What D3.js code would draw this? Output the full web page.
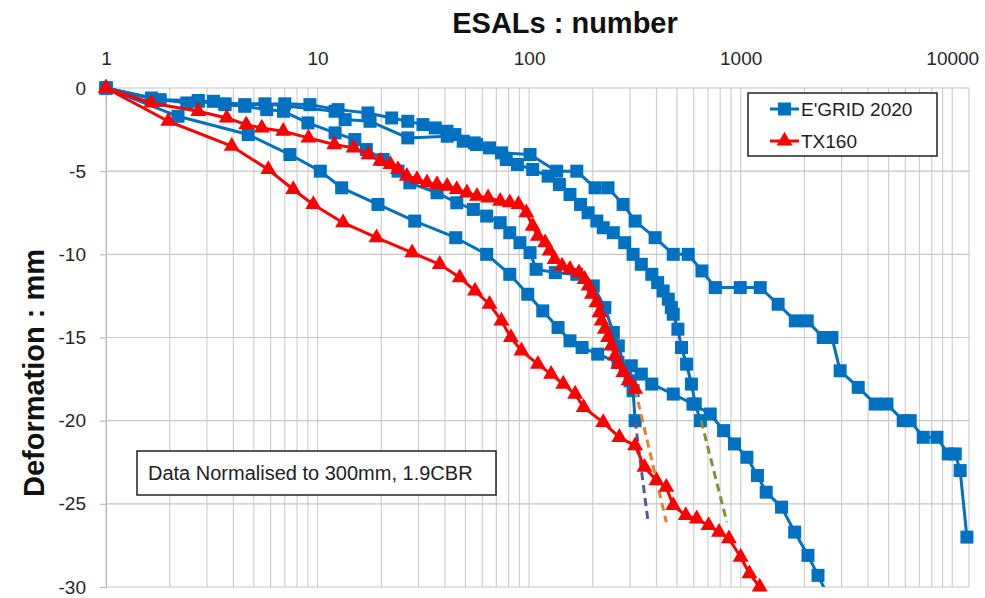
<!DOCTYPE html>
<html>
<head>
<meta charset="utf-8">
<script src="https://cdn.jsdelivr.net/npm/d3@7"></script>
<style>
  body { margin: 0; background: #fff; }
  text { font-family: "Liberation Sans", Arial, sans-serif; }
</style>
</head>
<body>
<svg id="svg" width="985" height="598"></svg>
<script>
const WIDTH = 985
const HEIGHT = 598
const PLOT = { left: 106, right: 969, top: 88, bottom: 587 }

// [ESALs, deformation mm] for each run
const EGRID_1 = [[1,0],[1.64,-0.6],[2.41,-0.9],[3.22,-0.8],[4.53,-1],[7,-0.95],[9.2,-1],[12.5,-1.3],[17.3,-1.5],[22.4,-1.8],[26.7,-2],[31.5,-2.2],[36,-2.4],[40.9,-2.6],[44.6,-2.8],[55,-3.3],[74,-3.9],[101,-4],[135,-5],[168,-5],[205,-6],[236,-6],[278,-7],[317,-8],[394,-9],[480,-10],[565,-10],[656,-11],[759,-12],[995,-12],[1237,-12],[1503,-13],[1812,-14],[2063,-14],[2455,-15],[2700,-15],[2952,-17],[3594,-18],[4328,-19],[4913,-19],[5866,-20],[6327,-20],[7290,-21],[8466,-21],[9572,-22],[10330,-22],[10900,-23],[11730,-27]]
const EGRID_2 = [[1,0],[1.8,-0.7],[2.73,-0.75],[3.65,-0.95],[5.64,-0.95],[12.1,-1.4],[13.5,-1.9],[17.7,-2],[26.7,-3],[41,-2.9],[48.8,-3.2],[56.5,-3.4],[65,-3.6],[78,-4.3],[88,-4.6],[104,-4.9],[123,-5.3],[139,-5.8],[156,-6.4],[175,-7],[190,-7.5],[209,-8],[224,-8.4],[250,-8.7],[283,-9.3],[310,-10],[339,-10.6],[380,-11.2],[405,-11.7],[430,-12.2],[455,-12.7],[470,-13.2],[480,-13.6],[505,-14.5],[525,-15.6],[555,-16.6],[585,-17.8],[610,-19],[645,-20]]
const EGRID_3 = [[1,0],[2.19,-1.7],[4.7,-2.8],[7.4,-4],[10.3,-5],[13,-6],[19.3,-7],[28.8,-8],[45,-9],[63,-10],[81,-11.2],[98.5,-12.4],[116,-13.4],[137,-14.4],[156,-15.2],[178,-15.6],[211,-16],[263,-16.5],[304,-16.7],[339,-17.2],[380,-17.8],[480,-18.4],[595,-19],[718,-19.6],[830,-20.6],[935,-21.4],[1070,-22.2],[1200,-23.3],[1320,-24.3],[1560,-25.2],[1800,-26.7],[2080,-28.1],[2320,-29.3],[2600,-30.6]]
const EGRID_4 = [[1,0],[1.8,-0.75],[2.73,-0.8],[3.65,-1],[4.53,-1.1],[5.75,-1.3],[6.9,-1.4],[9,-2.1],[12.1,-2.7],[15,-3.1],[17,-3.7],[20.4,-4.3],[24,-5],[27.3,-5.7],[36.7,-6.3],[45.5,-6.9],[54.5,-7.3],[63,-7.7],[73,-8.1],[81,-8.7],[90.5,-9.3],[101,-9.9],[108,-10.9],[133,-11.1],[168,-11.2],[201,-11.9],[228,-13.2],[250,-14.7],[264,-15.5],[285,-16.9],[300,-17.6],[310,-18.2],[317,-20]]

const TX160_1 = [[1,0],[1.64,-0.9],[2.73,-1.4],[3.72,-1.8],[4.6,-2.2],[5.45,-2.4],[6.88,-2.6],[9.06,-3],[12,-3.4],[14.8,-3.6],[17.4,-4],[19.8,-4.4],[22.1,-4.6],[24,-4.9],[26.4,-5.3],[29.5,-5.5],[32.9,-5.7],[36.7,-5.8],[41,-5.9],[45.5,-6.1],[50.8,-6.3],[56.7,-6.5],[64,-6.6],[73,-6.8],[81,-6.9],[89,-7],[97,-7.5],[104,-8.3],[110,-8.9],[119,-9.3],[125,-9.8],[132,-10.3],[143,-10.7],[156,-10.9],[172,-11.1],[183,-11.5],[191,-11.9],[198,-12.4],[208,-12.9],[215,-13.5],[220,-14],[228,-14.5],[236,-15],[245,-15.5],[255,-16.1],[264,-16.6],[279,-17.1],[295,-17.6],[317,-18.1]]
const TX160_2 = [[1,0],[1.97,-2],[3.93,-3.5],[5.85,-4.9],[7.67,-6.1],[9.55,-7],[13.2,-8.1],[19,-9],[28,-9.9],[37.8,-10.6],[47,-11.4],[55.5,-12.2],[65,-13],[74,-14],[82,-15],[92,-15.8],[110,-16.6],[127,-17.2],[145,-17.8],[165,-18.4],[181,-19.2],[224,-20.1],[267,-21],[317,-21.5],[351,-22.8],[400,-23.6],[445,-24],[480,-25.1],[550,-25.7],[620,-25.9],[705,-26.3],[790,-26.7],[880,-27.1],[1000,-28.2],[1100,-29.2],[1230,-30]]

// extrapolated ends
const TREND_PURPLE = [[317,-20],[365,-26.1]]
const TREND_ORANGE = [[317,-18.1],[445,-26.1]]
const TREND_OLIVE = [[650,-20],[860,-26.1]]

const X_TICKS = [1, 10, 100, 1000, 10000]
const Y_TICKS = [0, -5, -10, -15, -20, -25, -30]
const X_DOMAIN = [1, 12000]
const Y_DOMAIN = [-30, 0]

const BLUE = '#0070c0'
const RED = '#ff0000'

const SVG = d3.select('#svg')

const x = d3.scaleLog().domain(X_DOMAIN).range([PLOT.left, PLOT.right])
const y = d3.scaleLinear().domain(Y_DOMAIN).range([PLOT.bottom, PLOT.top])

// gridlines: every 1..9 per decade, plus the right edge
const minorX = []
for (let p = 0; p <= 4; p++) {
  for (let k = 1; k <= 9; k++) {
    const v = k * Math.pow(10, p)
    if (v <= X_DOMAIN[1]) minorX.push(v)
  }
}
minorX.push(X_DOMAIN[1])

const GRID = SVG.append('g')
GRID.selectAll('line.v')
  .data(minorX)
  .enter()
  .append('line')
  .attr('x1', d => x(d)).attr('x2', d => x(d))
  .attr('y1', PLOT.top).attr('y2', PLOT.bottom)
  .attr('stroke', '#cfcfcf')
  .attr('stroke-width', 1.2)
GRID.selectAll('line.h')
  .data(Y_TICKS)
  .enter()
  .append('line')
  .attr('x1', PLOT.left).attr('x2', PLOT.right)
  .attr('y1', d => y(d)).attr('y2', d => y(d))
  .attr('stroke', '#c6c6c6')
  .attr('stroke-width', 1.2)

// axes
const X_AXIS = SVG.append('g')
  .attr('transform', `translate(0, ${PLOT.top})`)
  .call(d3.axisTop(x).tickValues(X_TICKS).tickFormat(d => String(d)).tickSize(0).tickPadding(23))
X_AXIS.select('.domain').remove()
X_AXIS.selectAll('text')
  .attr('font-size', 19)
  .attr('fill', '#262626')
  .style('font-family', '"Liberation Sans", Arial, sans-serif')

const Y_AXIS = SVG.append('g')
  .attr('transform', `translate(${PLOT.left}, 0)`)
  .call(d3.axisLeft(y).tickValues(Y_TICKS).tickFormat(d => String(d)).tickSize(6).tickPadding(14))
Y_AXIS.select('.domain').attr('stroke', '#bdbdbd').attr('stroke-width', 1.2)
Y_AXIS.selectAll('line').attr('stroke', '#bdbdbd').attr('stroke-width', 1.2)
Y_AXIS.selectAll('text')
  .attr('font-size', 19)
  .attr('fill', '#262626')
  .style('font-family', '"Liberation Sans", Arial, sans-serif')

// titles
SVG.append('text')
  .text('ESALs : number')
  .attr('x', 565)
  .attr('y', 33)
  .attr('text-anchor', 'middle')
  .attr('font-size', 29)
  .attr('font-weight', 'bold')
  .attr('fill', '#111')

SVG.append('text')
  .text('Deformation : mm')
  .attr('transform', 'translate(44, 373) rotate(-90)')
  .attr('text-anchor', 'middle')
  .attr('font-size', 29)
  .attr('font-weight', 'bold')
  .attr('fill', '#111')

// series
SVG.append('clipPath').attr('id', 'plot-clip')
  .append('rect')
  .attr('x', PLOT.left).attr('y', PLOT.top)
  .attr('width', PLOT.right - PLOT.left).attr('height', PLOT.bottom - PLOT.top)

const LINE = d3.line().x(d => x(d[0])).y(d => y(d[1]))
const SQUARE = d3.symbol().type(d3.symbolSquare).size(169)
const TRIANGLE = d3.symbol().type(d3.symbolTriangle).size(110)

function drawSeries(data, color, symbol) {
  const g = SVG.append('g')
  g.append('path')
    .datum(data)
    .attr('d', LINE)
    .attr('fill', 'none')
    .attr('stroke', color)
    .attr('stroke-width', 3)
    .attr('stroke-linejoin', 'round')
    .attr('clip-path', 'url(#plot-clip)')
  g.selectAll('path.m')
    .data(data.filter(d => d[1] >= Y_DOMAIN[0]))
    .enter()
    .append('path')
    .attr('d', symbol)
    .attr('transform', d => `translate(${x(d[0])}, ${y(d[1])})`)
    .attr('fill', color)
}

function drawTrend(data, color) {
  SVG.append('path')
    .datum(data)
    .attr('d', LINE)
    .attr('fill', 'none')
    .attr('stroke', color)
    .attr('stroke-width', 3)
    .attr('stroke-dasharray', '8,5')
}

drawSeries(EGRID_1, BLUE, SQUARE)
drawSeries(EGRID_2, BLUE, SQUARE)
drawSeries(EGRID_3, BLUE, SQUARE)
drawSeries(EGRID_4, BLUE, SQUARE)
drawTrend(TREND_PURPLE, '#5e5495')
drawTrend(TREND_ORANGE, '#ed7d31')
drawTrend(TREND_OLIVE, '#77933c')
drawSeries(TX160_1, RED, TRIANGLE)
drawSeries(TX160_2, RED, TRIANGLE)

// legend
const LEGEND = SVG.append('g')
LEGEND.append('rect')
  .attr('x', 748).attr('y', 93)
  .attr('width', 189).attr('height', 63)
  .attr('fill', '#fff')
  .attr('stroke', '#222')
  .attr('stroke-width', 1.5)

const LEGEND_ITEMS = [
  { label: "E'GRID 2020", color: BLUE, symbol: SQUARE, y: 109 },
  { label: 'TX160', color: RED, symbol: TRIANGLE, y: 141 }
]
LEGEND_ITEMS.forEach(item => {
  LEGEND.append('line')
    .attr('x1', 770).attr('x2', 799)
    .attr('y1', item.y).attr('y2', item.y)
    .attr('stroke', item.color)
    .attr('stroke-width', 3)
  LEGEND.append('path')
    .attr('d', item.symbol)
    .attr('transform', `translate(784.5, ${item.y})`)
    .attr('fill', item.color)
  LEGEND.append('text')
    .text(item.label)
    .attr('x', 801)
    .attr('y', item.y + 7)
    .attr('font-size', 19)
    .attr('fill', '#222')
})

// note box
SVG.append('rect')
  .attr('x', 137).attr('y', 451)
  .attr('width', 359).attr('height', 44)
  .attr('fill', '#fff')
  .attr('stroke', '#222')
  .attr('stroke-width', 1.5)
SVG.append('text')
  .text('Data Normalised to 300mm, 1.9CBR')
  .attr('x', 148)
  .attr('y', 480)
  .attr('font-size', 20)
  .attr('fill', '#222')
</script>
</body>
</html>
